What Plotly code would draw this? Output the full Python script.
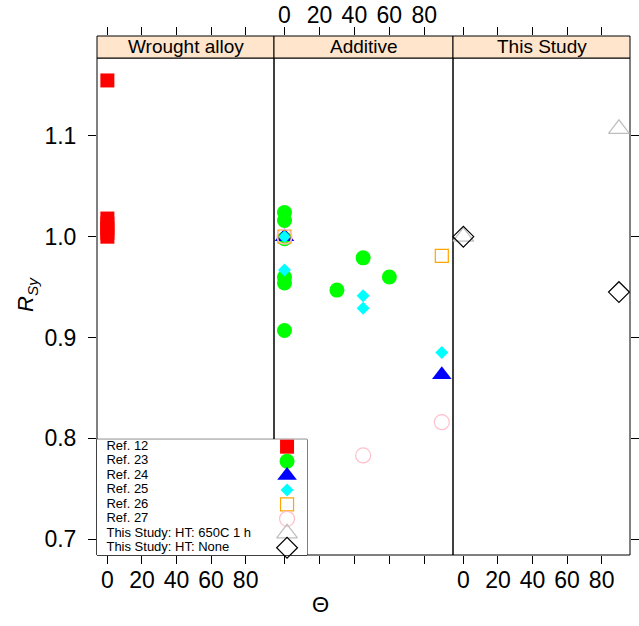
import plotly.graph_objects as go

panels = ["Wrought alloy", "Additive", "This Study"]
series_names = ["Ref. 12", "Ref. 23", "Ref. 24", "Ref. 25", "Ref. 26", "Ref. 27",
                "This Study: HT: 650C 1 h", "This Study: HT: None"]
theta_ticks = [0, 20, 40, 60, 80]
rsy_ticks = [0.7, 0.8, 0.9, 1.0, 1.1]

# Wrought alloy
theta_ref12 = [0, 0, 0, 0, 0, 0]
rsy_ref12 = [1.155, 1.018, 1.013, 1.008, 1.004, 1.0]

# Additive
theta_ref23 = [0, 0, 0, 0, 0, 0, 30, 45, 60]
rsy_ref23 = [1.024, 1.016, 0.998, 0.960, 0.954, 0.907, 0.947, 0.979, 0.960]
theta_ref24 = [0, 90]
rsy_ref24 = [1.0, 0.863]
theta_ref25 = [0, 0, 45, 45, 90]
rsy_ref25 = [1.0, 0.967, 0.9415, 0.929, 0.885]
theta_ref26 = [0, 90]
rsy_ref26 = [1.0, 0.981]
theta_ref27 = [0, 45, 90]
rsy_ref27 = [1.0, 0.783, 0.816]

# This Study
theta_ht650 = [0, 90]
rsy_ht650 = [1.0, 1.107]
theta_htnone = [0, 90]
rsy_htnone = [1.0, 0.945]

FONT = "Liberation Sans, Arial, Helvetica, sans-serif"

# (name, panel index, x, y, symbol, colour, size)
series = [
    (series_names[0], 0, theta_ref12, rsy_ref12, "square", "#ff0000", 14),
    (series_names[1], 1, theta_ref23, rsy_ref23, "circle", "#00ff00", 15),
    (series_names[2], 1, theta_ref24, rsy_ref24, "triangle-up", "#0000ff", 17),
    (series_names[3], 1, theta_ref25, rsy_ref25, "diamond", "#00ffff", 10),
    (series_names[4], 1, theta_ref26, rsy_ref26, "square-open", "#ffa500", 13),
    (series_names[5], 1, theta_ref27, rsy_ref27, "circle-open", "#ffc0cb", 15),
    (series_names[6], 2, theta_ht650, rsy_ht650, "triangle-up-open", "#bebebe", 18),
    (series_names[7], 2, theta_htnone, rsy_htnone, "diamond-open", "#000000", 16),
]

xref = ["x", "x2", "x3"]
yref = ["y", "y", "y3"]

fig = go.Figure()
for name, p, xs, ys, sym, col, size in series:
    fig.add_trace(go.Scatter(
        x=xs, y=ys, mode="markers", name=name, xaxis=xref[p], yaxis=yref[p],
        marker=dict(symbol=sym, color=col, size=size, opacity=1,
                    line=dict(width=1.2 if "open" in sym else 0, color=col)),
        showlegend=False, cliponaxis=False,
    ))

# legend drawn as its own little subplot
fig.add_trace(go.Scatter(
    x=[0.045] * len(series_names), y=list(range(len(series_names))),
    mode="text", text=series_names, textposition="middle right",
    textfont=dict(family=FONT, size=13, color="black"),
    xaxis="x7", yaxis="y7", showlegend=False, cliponaxis=False,
))
fig.add_trace(go.Scatter(
    x=[0.905] * len(series_names), y=list(range(len(series_names))),
    mode="markers",
    marker=dict(symbol=[s[4] for s in series], color=[s[5] for s in series],
                size=[s[6] for s in series], opacity=1,
                line=dict(width=[1.2 if "open" in s[4] else 0 for s in series],
                          color=[s[5] for s in series])),
    xaxis="x7", yaxis="y7", showlegend=False, cliponaxis=False,
))

W, H = 639, 626
L, R, T, B = 97, 9, 36, 71
pw = W - L - R
ph = H - T - B
strip_h = 22
ytop = (ph - strip_h) / ph
edges = [0, 177 / pw, 356 / pw, 1]
xr = [-6, 96.4]
# y range covers the strip too, so the mirrored x ticks sit above it
yr = [0.6842, 1.1991]

tickfont = dict(family=FONT, size=23, color="black")
common_x = dict(range=xr, tickvals=theta_ticks, ticks="outside", ticklen=8,
                tickcolor="black", showgrid=False, zeroline=False, showline=False,
                mirror="ticks", tickfont=tickfont, automargin=False,
                ticklabelstandoff=-4)

layout = dict(
    width=W, height=H, margin=dict(l=L, r=R, t=T, b=B, autoexpand=False),
    paper_bgcolor="white", plot_bgcolor="white", showlegend=False,
    font=dict(family=FONT, color="black"),
)
layout["xaxis"] = dict(common_x, domain=[edges[0], edges[1]], anchor="y", side="bottom")
layout["xaxis2"] = dict(common_x, domain=[edges[1], edges[2]], anchor="y", side="top",
                        ticklabelstandoff=-5)
layout["xaxis3"] = dict(common_x, domain=[edges[2], edges[3]], anchor="y3", side="bottom")

layout["yaxis"] = dict(domain=[0, 1], range=yr, anchor="x", tickvals=rsy_ticks,
                       tickformat=".1f", ticks="outside", ticklen=8, tickcolor="black",
                       showgrid=False, zeroline=False, tickfont=tickfont,
                       ticklabelstandoff=7, automargin=False)
layout["yaxis3"] = dict(domain=[0, 1], range=yr, matches="y", anchor="x3", side="right",
                        tickvals=rsy_ticks, ticks="outside", ticklen=8,
                        tickcolor="black", showticklabels=False, showgrid=False,
                        zeroline=False, automargin=False)

leg_w = (307 - L) / pw
leg_h = (555 - 439.3) / ph
layout["xaxis7"] = dict(domain=[0, leg_w], anchor="y7", range=[0, 1], visible=False)
layout["yaxis7"] = dict(domain=[0, leg_h], anchor="x7", range=[7.505, -0.513],
                        visible=False)

shapes = []
for i in range(3):
    shapes.append(dict(type="rect", xref="paper", yref="paper", x0=edges[i],
                       x1=edges[i + 1], y0=0, y1=ytop, line=dict(color="black", width=1),
                       layer="below"))
    shapes.append(dict(type="rect", xref="paper", yref="paper", x0=edges[i],
                       x1=edges[i + 1], y0=ytop, y1=1, fillcolor="#ffe5cc",
                       line=dict(color="black", width=1), layer="below"))
shapes.append(dict(type="rect", xref="paper", yref="paper", x0=0, x1=leg_w, y0=0,
                   y1=leg_h, fillcolor="white", line=dict(color="black", width=1),
                   layer="below"))
layout["shapes"] = shapes

annotations = []
for i, name in enumerate(panels):
    annotations.append(dict(text=name, xref="paper", yref="paper",
                            x=(edges[i] + edges[i + 1]) / 2, y=(ytop + 1) / 2,
                            showarrow=False, xanchor="center", yanchor="middle",
                            font=dict(family=FONT, size=19, color="black")))
annotations.append(dict(text="Θ", xref="paper", yref="paper", x=(320 - L) / pw,
                        y=(H - B - 604) / ph, showarrow=False, yanchor="middle",
                        font=dict(family=FONT, size=22, color="black")))
annotations.append(dict(text="<i>R</i><sub><i>Sy</i></sub>", xref="paper", yref="paper",
                        x=(27 - L) / pw, y=(H - B - 295) / ph, showarrow=False,
                        textangle=-90, xanchor="center", yanchor="middle",
                        font=dict(family=FONT, size=22, color="black")))
layout["annotations"] = annotations

fig.update_layout(layout)
# the page's default 8px body margin would push the figure off its 639x626 window
fig.write_html("out.html", config={"displayModeBar": False},
               post_script="document.body.style.margin='0px';")
